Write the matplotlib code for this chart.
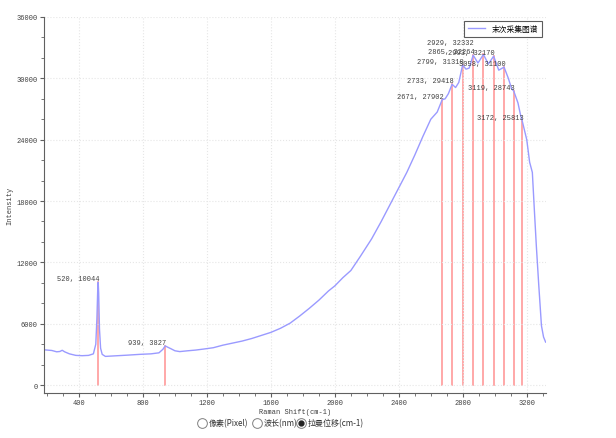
import matplotlib
matplotlib.use("Agg")
import matplotlib.pyplot as plt
from matplotlib.ticker import MultipleLocator
from matplotlib.lines import Line2D

# spectrum (Raman shift, intensity)
shift = [180, 200, 230, 260, 280, 295, 310, 340, 380, 420, 460, 490, 505, 512,
         517, 520, 523, 528, 535, 545, 565, 620, 700, 780, 850, 900, 925, 939,
         955, 975, 1000, 1030, 1080, 1130, 1180, 1240, 1300, 1360, 1420, 1480,
         1540, 1600, 1660, 1720, 1780, 1840, 1900, 1960, 2000, 2050, 2100, 2160,
         2230, 2290, 2350, 2400, 2450, 2500, 2550, 2600, 2640, 2671, 2690, 2710,
         2733, 2755, 2775, 2799, 2820, 2840, 2865, 2895, 2929, 2960, 2993, 3025,
         3058, 3085, 3105, 3119, 3145, 3160, 3172, 3200, 3218, 3235, 3248, 3260,
         3275, 3292, 3305, 3318]
intensity = [3450, 3420, 3380, 3250, 3280, 3400, 3250, 3050, 2900, 2870, 2900,
             3050, 4000, 6500, 9300, 10044, 9000, 5500, 3600, 3000, 2800, 2850,
             2920, 3000, 3050, 3150, 3500, 3827, 3700, 3550, 3350, 3270, 3350,
             3420, 3520, 3650, 3900, 4100, 4300, 4550, 4850, 5150, 5550, 6050,
             6750, 7500, 8300, 9200, 9700, 10500, 11200, 12600, 14300, 16000,
             17800, 19300, 20800, 22500, 24300, 26000, 26700, 27902, 28000, 28500,
             29418, 29100, 29600, 31310, 30900, 31000, 32264, 31500, 32332, 31400,
             32170, 30800, 31100, 30000, 29000, 28743, 27600, 26500, 25813, 24000,
             21800, 20800, 17000, 13600, 9800, 5800, 4700, 4200]

# marked peaks
peak_x = [520, 939, 2671, 2733, 2799, 2865, 2929, 2993, 3058, 3119, 3172]
peak_y = [10044, 3827, 27902, 29418, 31310, 32264, 32332, 32170, 31100, 28743, 25813]

mono = "Liberation Mono"
cjk = ["Noto Sans CJK SC", "DejaVu Sans"]

fig = plt.figure(figsize=(6.16, 4.39), dpi=100)
ax = fig.add_axes([0.0714, 0.1025, 0.8146, 0.8565])

for px, py in zip(peak_x, peak_y):
    ax.plot([px, px], [0, py], color="#ff9a9a", lw=1.2, zorder=1)

ax.plot(shift, intensity, color="#9a9aff", lw=1.0, zorder=2, label="末次采集图谱")

for px, py in zip(peak_x, peak_y):
    off = (-7, 6) if px == 2929 else (1, 0)
    ax.annotate(f"{px}, {py}", (px, py), xytext=off, textcoords="offset points",
                ha="right", va="bottom", fontsize=5, family=mono, color="#404040",
                zorder=3)

ax.set_xlim(181, 3319)
ax.set_ylim(-780, 36000)
ax.xaxis.set_major_locator(MultipleLocator(400))
ax.xaxis.set_minor_locator(MultipleLocator(100))
ax.yaxis.set_major_locator(MultipleLocator(6000))
ax.yaxis.set_minor_locator(MultipleLocator(2000))
ax.grid(True, which="major", color="#e6e6e6", ls=":", lw=0.8)
for s in ["top", "right"]:
    ax.spines[s].set_visible(False)
for s in ["left", "bottom"]:
    ax.spines[s].set_color("#606060")
ax.tick_params(which="major", length=3, color="#606060", labelsize=5,
               labelcolor="#404040", pad=1.5)
ax.tick_params(which="minor", length=2, color="#606060")
for lab in ax.get_xticklabels() + ax.get_yticklabels():
    lab.set_family(mono)
ax.set_xlabel("Raman Shift(cm-1)", family=mono, fontsize=5, color="#404040", labelpad=1)
ax.set_ylabel("Intensity", family=mono, fontsize=5, color="#404040")
ax.yaxis.set_label_coords(-0.062, 0.5)

leg = ax.legend(loc="upper right", prop={"family": cjk, "size": 5.6},
                fancybox=False, edgecolor="#333333", handlelength=2.2,
                borderpad=0.5, bbox_to_anchor=(1.0, 1.0))
leg.get_frame().set_linewidth(0.8)

# radio buttons under the chart
opts = ["像素(Pixel)", "波长(nm)", "拉曼位移(cm-1)"]
opt_x = [201.7, 256.7, 300.7]
oy = 1 - 423.5 / 439
for i, (t, x) in enumerate(zip(opts, opt_x)):
    fx = x / 616
    fig.add_artist(Line2D([fx], [oy], marker="o", ms=7, mfc="white",
                          mec="#808080", mew=0.7, transform=fig.transFigure))
    if i == 2:
        fig.add_artist(Line2D([fx], [oy], marker="o", ms=3.5, mfc="#222222",
                              mec="#222222", transform=fig.transFigure))
    fig.text(fx + 7 / 616, oy, t, family=cjk, fontsize=5.8, va="center",
             ha="left", color="#333333")

fig.savefig("out.png", dpi=100)
